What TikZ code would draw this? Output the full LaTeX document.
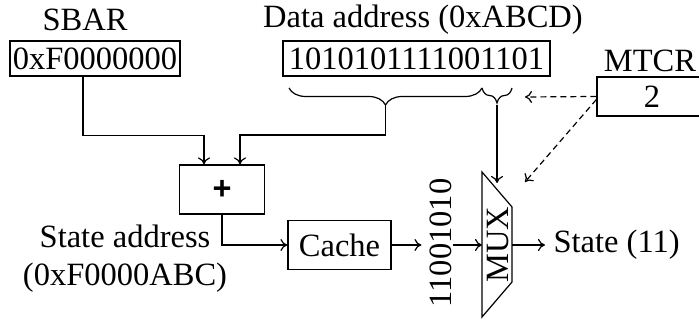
\documentclass[tikz,border=0pt]{standalone}
\usepackage{fontspec}
\setmainfont{Liberation Serif}
\setsansfont{Liberation Sans}
\usetikzlibrary{positioning,arrows.meta,calc,decorations.pathreplacing}

\begin{document}
\begin{tikzpicture}[x=1pt,y=1pt,line width=1.2pt,
  >={To[length=7pt,width=12pt]},
  every node/.style={font=\fontsize{32.5}{38}\selectfont},
  regbox/.style={draw,rectangle,inner sep=2pt},
  lbl/.style={inner sep=2pt},
  sel/.style={->,dash pattern=on 6pt off 4pt},
  brc/.style={decorate,decoration={brace,amplitude=#1}}]
\useasboundingbox (0,0) rectangle (699,320);
\clip (0,0) rectangle (699,320);
% registers
\node[lbl] (sbarlbl) at (85,300) {SBAR};
\node[regbox,minimum width=170pt,minimum height=35pt] (sbar) at (95,261.5) {0xF0000000};
\node[lbl] (datalbl) at (423,300) {Data address (0xABCD)};
\node[regbox,minimum width=267pt,minimum height=35pt] (data) at (416.5,261.5) {1010101111001101};
\node[lbl] (mtcrlbl) at (650,259) {MTCR};
\node[regbox,minimum width=110pt,minimum height=39pt] (mtcr) at (652,223.5) {2};
% bit fields of the data address
\draw[brc=17pt] (482,232) -- (289,232);
\draw[brc=15pt] (512,232) -- (482,232);
\coordinate (bigtip) at (385.5,215);
\coordinate (smalltip) at (497,215);
% adder and cache
\node[regbox,minimum width=85pt,minimum height=49pt,font=\fontsize{32.5}{38}\selectfont\sffamily\bfseries] (plus) at (222,130.5) {+};
\node[regbox,minimum width=103pt,minimum height=49pt] (cache) at (339.5,75) {Cache};
\node[lbl,align=center] (stateaddr) at (125,61) {State address\\(0xF0000ABC)};
\node[inner sep=0pt,rotate=90] (bits) at (441,77) {11001010};
% multiplexer
\coordinate (m1) at (482,148);
\coordinate (m2) at (512,113);
\coordinate (m3) at (512,38);
\coordinate (m4) at (482,3);
\draw (m1) -- (m2) -- (m3) -- (m4) -- cycle;
\node[inner sep=0pt,rotate=90] (mux) at (498,75.5) {MUX};
\coordinate (muxin) at (482,75);
\coordinate (muxout) at (512,75);
\coordinate (muxsel) at (497,137);
\node[anchor=west,inner xsep=8pt,inner ysep=2pt] (state) at (545,75) {State (11)};
% connections
\draw[->] ([xshift=-12pt]sbar.south) -- ++(0,-59) -| ([xshift=-18pt]plus.north);
\draw[->] (bigtip) -- ++(0,-30) -| ([xshift=18pt]plus.north);
\draw[->] (plus.south) |- (cache.west);
\draw[->,shorten >=8pt] (cache.east) -- (cache.east -| bits.north);
\draw[->] (bits.south |- muxin) -- (muxin);
\draw[->] (muxout) -- (state.west);
\draw[->] (smalltip) -- (muxsel);
\coordinate (seltip1) at (525,223);
\coordinate (seltip2) at (525,138);
\draw[sel] (mtcr.west) -- (seltip1);
\draw[sel] ([yshift=-3pt]mtcr.west) -- (seltip2);
\end{tikzpicture}
\end{document}
